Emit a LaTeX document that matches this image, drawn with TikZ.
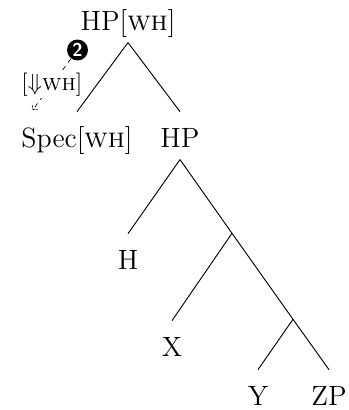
\documentclass[tikz,border=0pt]{standalone}
\usepackage{amssymb}
\usetikzlibrary{positioning,arrows}
\tikzset{
	cat/.style={anchor=base, font=\large, text height=13pt, text depth=3.2pt, inner xsep=1pt, inner ysep=2pt},
	moveno/.style={circle, fill=black, text=white, minimum size=9pt, inner sep=0pt, font=\sffamily\bfseries\footnotesize},
}
\begin{document}
\begin{tikzpicture}[x=0.43pt, y=-0.43pt, every edge/.append style={every node/.style={font=\normalsize}}]
			\useasboundingbox (0,0) rectangle (348,410);
			\node[cat] (top) at (128,30) {HP[\textsc{wh}]};
			\node[cat] (spec) at (77,147) {Spec[\textsc{wh}]};
			\node[cat] (hp) at (180,147) {HP};
			\node[cat] (h) at (128,269) {H};
			\node[cat] (x) at (172,356) {X};
			\node[cat] (y) at (258,405) {Y};
			\node[cat] (zp) at (329,405) {ZP};
			\coordinate (n1) at (232,233.3);
			\coordinate (n2) at (293,319.3);
			
			\draw (top.south) -- (spec.north);
			\draw (top.south) -- (hp.north);
			\draw (hp.south) -- (h.north);
			\draw (hp.south) -- (n1) -- (n2) -- (zp.north);
			\draw (n1) -- (x.north);
			\draw (n2) -- (y.north);
			
			\node[moveno] (step2) at (77.5,50) {2};
			\coordinate (land) at (32.7,110);
			\draw[->, dashed, line width=0.3pt, dash pattern=on 2pt off 2pt] (step2) -- node[fill=white, inner sep=1pt]{[$\Downarrow$\textsc{wh}]} (land);
		\end{tikzpicture}
\end{document}
